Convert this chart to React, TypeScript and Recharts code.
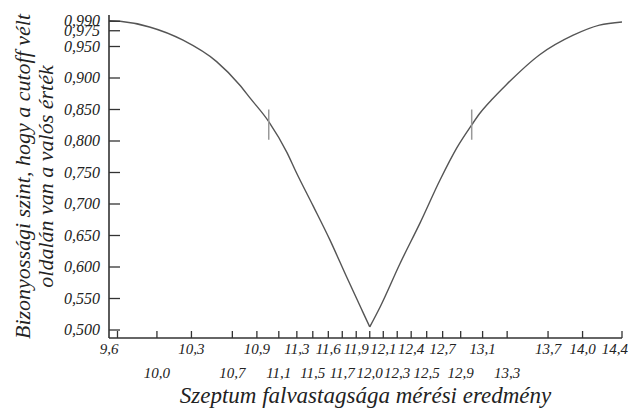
import { Label, Line, LineChart, ReferenceLine, XAxis, YAxis } from "recharts";

// measurement values (x) where the curve was read, and the confidence level there
const leftMeasurements = [9.514, 9.62, 9.9, 10.22, 10.54, 10.76, 10.86, 11.04, 11.21, 11.3, 11.46, 11.62, 11.78, 11.93, 12.0];
const leftConfidence = [0.991, 0.99, 0.981, 0.96, 0.926, 0.889, 0.868, 0.83, 0.782, 0.75, 0.697, 0.643, 0.584, 0.53, 0.505];

const rightMeasurements = [12.0, 12.1, 12.29, 12.48, 12.67, 12.83, 12.97, 13.05, 13.16, 13.3, 13.62, 13.94, 14.19, 14.405];
const rightConfidence = [0.505, 0.537, 0.606, 0.67, 0.738, 0.789, 0.825, 0.844, 0.865, 0.889, 0.937, 0.968, 0.984, 0.989];

// x ticks sit where the curve reaches each y tick level; labels are the rounded values
const xTickValues = [
  9.595, 9.971, 10.3, 10.69, 10.924, 11.133, 11.305, 11.457, 11.605, 11.738, 11.871, 12.0,
  12.129, 12.262, 12.395, 12.543, 12.695, 12.867, 13.076, 13.31, 13.7, 14.029, 14.405,
];
const xTickLabels = [
  "9,6", "10,0", "10,3", "10,7", "10,9", "11,1", "11,3", "11,5", "11,6", "11,7", "11,9", "12,0",
  "12,1", "12,3", "12,4", "12,5", "12,7", "12,9", "13,1", "13,3", "13,7", "14,0", "14,4",
];
const lowerRowLabels = ["10,0", "10,7", "11,1", "11,5", "11,7", "12,0", "12,3", "12,5", "12,9", "13,3"];

const yTickValues = [0.5, 0.55, 0.6, 0.65, 0.7, 0.75, 0.8, 0.85, 0.9, 0.95, 0.975, 0.99];

// short vertical marks crossing the curve
const markerMeasurements = [11.037, 12.972];
const markerRange = [0.802, 0.85];

const xDomain: [number, number] = [9.514, 14.405];
const yDomain: [number, number] = [0.4873, 1.0];

const SERIF = '"Times New Roman", "Liberation Serif"';
const INK = "#333";

const leftData = leftMeasurements.map((t, i) => ({ t, c: leftConfidence[i] }));
const rightData = rightMeasurements.map((t, i) => ({ t, c: rightConfidence[i] }));

function formatYTick(value: number): string {
  return value.toFixed(3).replace(".", ",");
}

function XTick(props: any) {
  const { x, y, index } = props;
  const label = xTickLabels[index] ?? "";
  const lower = lowerRowLabels.includes(label);
  const first = index === 0;
  const last = index === xTickLabels.length - 1;
  return (
    <g>
      <line x1={x} x2={x} y1={y - 7} y2={y} stroke={INK} strokeWidth={1.3} />
      <text
        x={first ? x + 1 : last ? x + 6 : x}
        y={y + (lower ? 40 : 16)}
        textAnchor={first || last ? "end" : "middle"}
        fontFamily={SERIF}
        fontStyle="italic"
        fontSize={15}
        fill="#222"
      >
        {label}
      </text>
    </g>
  );
}

function YTick(props: any) {
  const { x, y, payload } = props;
  return (
    <g>
      <line x1={x} x2={x + 11} y1={y} y2={y} stroke={INK} strokeWidth={1.3} />
      <text
        x={x - 9}
        y={y}
        dy="0.32em"
        textAnchor="end"
        fontFamily={SERIF}
        fontStyle="italic"
        fontSize={16}
        fill="#222"
      >
        {formatYTick(payload.value)}
      </text>
    </g>
  );
}

function YTitle(props: any) {
  const { viewBox } = props;
  const cy = viewBox.y + viewBox.height / 2;
  return (
    <g fontFamily={SERIF} fontStyle="italic" fontSize={22} fill="#222">
      <text transform={`translate(30, ${cy}) rotate(-90)`} textAnchor="middle">
        Bizonyossági szint, hogy a cutoff vélt
      </text>
      <text transform={`translate(53, ${cy}) rotate(-90)`} textAnchor="middle">
        oldalán van a valós érték
      </text>
    </g>
  );
}

function XTitle(props: any) {
  const { viewBox } = props;
  return (
    <text
      x={viewBox.x + viewBox.width / 2}
      y={403}
      textAnchor="middle"
      fontFamily={SERIF}
      fontStyle="italic"
      fontSize={23}
      fill="#222"
    >
      Szeptum falvastagsága mérési eredmény
    </text>
  );
}

export default function App() {
  return (
    <div
      style={{
        position: "absolute",
        left: 0,
        top: 0,
        background: "#fff",
        fontFamily: SERIF,
        fontStyle: "italic",
      }}
    >
      <LineChart
        width={633}
        height={417}
        margin={{ top: 15, right: 11, bottom: 0, left: 0 }}
        style={{ fontFamily: SERIF, fontStyle: "italic" }}
      >
        <XAxis
          dataKey="t"
          type="number"
          domain={xDomain}
          ticks={xTickValues}
          interval={0}
          allowDataOverflow
          height={79}
          tickSize={0}
          tickMargin={0}
          tickLine={false}
          tick={<XTick />}
          axisLine={{ stroke: INK, strokeWidth: 1.6 }}
        >
          <Label content={<XTitle />} />
        </XAxis>
        <YAxis
          dataKey="c"
          type="number"
          domain={yDomain}
          ticks={yTickValues}
          interval={0}
          allowDataOverflow
          width={109}
          tickSize={0}
          tickMargin={0}
          tickLine={false}
          tick={<YTick />}
          axisLine={{ stroke: INK, strokeWidth: 1.6 }}
        >
          <Label content={<YTitle />} />
        </YAxis>
        <Line
          data={leftData}
          dataKey="c"
          type="monotone"
          stroke="#555"
          strokeWidth={1.4}
          dot={false}
          isAnimationActive={false}
        />
        <Line
          data={rightData}
          dataKey="c"
          type="monotone"
          stroke="#555"
          strokeWidth={1.4}
          dot={false}
          isAnimationActive={false}
        />
        {markerMeasurements.map((m) => (
          <ReferenceLine
            key={m}
            segment={[
              { x: m, y: markerRange[0] },
              { x: m, y: markerRange[1] },
            ]}
            stroke="#999"
            strokeWidth={1.5}
          />
        ))}
      </LineChart>
    </div>
  );
}
